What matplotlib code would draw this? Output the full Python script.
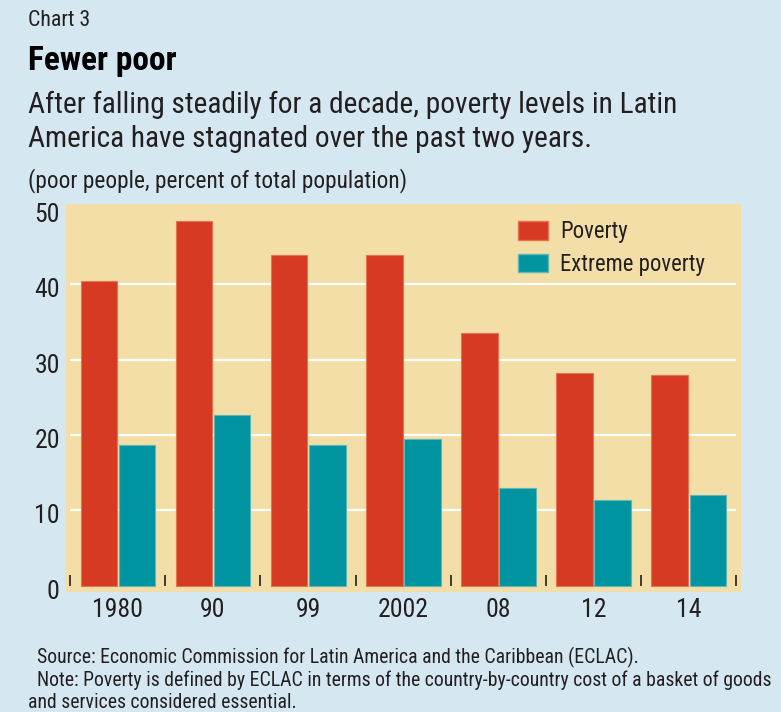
import matplotlib
matplotlib.use("Agg")
import matplotlib.pyplot as plt
from matplotlib import font_manager
from matplotlib.font_manager import FontProperties
from matplotlib.patches import Patch
from matplotlib.transforms import ScaledTranslation
import numpy as np

categories = ["1980", "90", "99", "2002", "08", "12", "14"]
poverty = [40.5, 48.4, 43.9, 43.9, 33.5, 28.2, 28.0]
extreme = [18.6, 22.6, 18.6, 19.4, 12.9, 11.3, 12.0]
yticks = [0, 10, 20, 30, 40, 50]


def _w(v):
    if isinstance(v, (int, float)):
        return int(v)
    return font_manager.weight_dict.get(str(v).lower(), 400)


def _stretch(v):
    if isinstance(v, (int, float)):
        return int(v)
    return font_manager.stretch_dict.get(str(v).lower(), 500)


PREF = ["liberation sans narrow", "roboto condensed", "open sans condensed",
        "noto sans condensed", "noto sans", "dejavu sans condensed", "dejavu sans",
        "arial narrow", "lato", "inter"]


def find_condensed(bold):
    best = None
    for f in font_manager.fontManager.ttflist:
        fn = f.fname.lower()
        n = f.name.lower()
        if "cjk" in fn or "mono" in fn or "serif" in n and "sans" not in n:
            continue
        if f.style != "normal" or "italic" in fn or "oblique" in fn:
            continue
        st = _stretch(f.stretch)
        is_narrow = st < 500 or "narrow" in fn or "condensed" in fn or "narrow" in n or "condensed" in n
        if not is_narrow:
            continue
        if "extracondensed" in fn.replace("-", "").replace("_", "") or "ultracondensed" in fn:
            squeeze = 2
        elif "semicondensed" in fn.replace("-", "").replace("_", ""):
            squeeze = 1
        else:
            squeeze = 0
        w = _w(f.weight)
        target = 700 if bold else 400
        pr = next((i for i, p in enumerate(PREF) if n.startswith(p)), len(PREF))
        score = (pr, squeeze, abs(w - target))
        if best is None or score < best[0]:
            best = (score, f.fname)
    return best[1] if best else None


reg_file = find_condensed(False)
bold_file = find_condensed(True)
if reg_file:
    FP = FontProperties(fname=reg_file)
    FPB = FontProperties(fname=bold_file) if bold_file else FontProperties(fname=reg_file, weight="bold")
    SC = 1.0
else:
    FP = FontProperties(family=["Liberation Sans", "DejaVu Sans"])
    FPB = FontProperties(family=["Liberation Sans", "DejaVu Sans"], weight="bold")
    SC = 0.86


def fp(size, bold=False):
    p = (FPB if bold else FP).copy()
    p.set_size(size * SC)
    return p


BG = "#d5e8f1"
PANEL = "#f2dea6"
RED = "#d63a23"
TEAL = "#0094a1"
TXT = "#231f20"

fig = plt.figure(figsize=(7.81, 7.12), dpi=100, facecolor=BG)
ax = fig.add_axes([66/781, 1-592/712, 675/781, 388/712])
ax.set_facecolor(PANEL)

x = np.arange(len(categories))
w = 0.383
ax.bar(x - 0.197, poverty, width=w, color=RED, edgecolor="#e8714f", linewidth=0.8, zorder=3, label="Poverty")
ax.bar(x + 0.203, extreme, width=w, color=TEAL, edgecolor="#5fb8b5", linewidth=0.8, zorder=3, label="Extreme poverty")

ax.hlines(yticks[1:-1], -0.5, 6.5, colors="white", linewidth=1.6, zorder=1)

ax.set_xlim(-0.545, 6.553)
ax.set_ylim(-0.85, 50.66)
for s in ax.spines.values():
    s.set_visible(False)
ax.spines["bottom"].set_position(("data", 0))

ax.set_yticks(yticks)
ax.set_yticklabels([str(v) for v in yticks])
ax.tick_params(axis="y", length=0, pad=4.5, labelcolor=TXT)
off = ScaledTranslation(0, -0.035, fig.dpi_scale_trans)
for lab in ax.get_yticklabels():
    lab.set_fontproperties(fp(18.5))
    lab.set_transform(lab.get_transform() + off)

ax.set_xticks(x)
ax.set_xticklabels(categories)
ax.set_xticks(np.arange(-0.5, len(categories)), minor=True)
ax.tick_params(axis="x", which="major", length=0, pad=9, labelcolor=TXT)
ax.tick_params(axis="x", which="minor", direction="in", length=8, width=1.2, color=TXT)
for lab in ax.get_xticklabels():
    lab.set_fontproperties(fp(18.5))

handles = [Patch(facecolor=RED, edgecolor="#e8714f"), Patch(facecolor=TEAL, edgecolor="#5fb8b5")]
ax.legend(handles, ["Poverty", "Extreme poverty"], loc="upper left",
          bbox_to_anchor=(0.67, 0.958), frameon=False, prop=fp(16.4),
          handlelength=1.3, handleheight=0.9, handletextpad=0.55,
          labelspacing=0.42, borderpad=0, borderaxespad=0)
for t in ax.get_legend().get_texts():
    t.set_color(TXT)

fig.text(28/781, 1-20/712, "Chart 3", fontproperties=fp(15.7), color=TXT, va="center", ha="left")
fig.text(28/781, 1-61/712, "Fewer poor", fontproperties=fp(24, True), color="black", va="center", ha="left")
fig.text(28/781, 1-105/712, "After falling steadily for a decade, poverty levels in Latin", fontproperties=fp(21.2), color=TXT, va="center", ha="left")
fig.text(28/781, 1-139/712, "America have stagnated over the past two years.", fontproperties=fp(21.2), color=TXT, va="center", ha="left")
fig.text(28/781, 1-181/712, "(poor people, percent of total population)", fontproperties=fp(16.8), color=TXT, va="center", ha="left")

fig.text(37/781, 1-657/712, "Source: Economic Commission for Latin America and the Caribbean (ECLAC).", fontproperties=fp(14.2), color=TXT, va="center", ha="left")
fig.text(37/781, 1-680/712, "Note: Poverty is defined by ECLAC in terms of the country-by-country cost of a basket of goods", fontproperties=fp(14.2), color=TXT, va="center", ha="left")
fig.text(28/781, 1-703/712, "and services considered essential.", fontproperties=fp(14.2), color=TXT, va="center", ha="left")

fig.savefig("out.png", dpi=100, facecolor=BG)
